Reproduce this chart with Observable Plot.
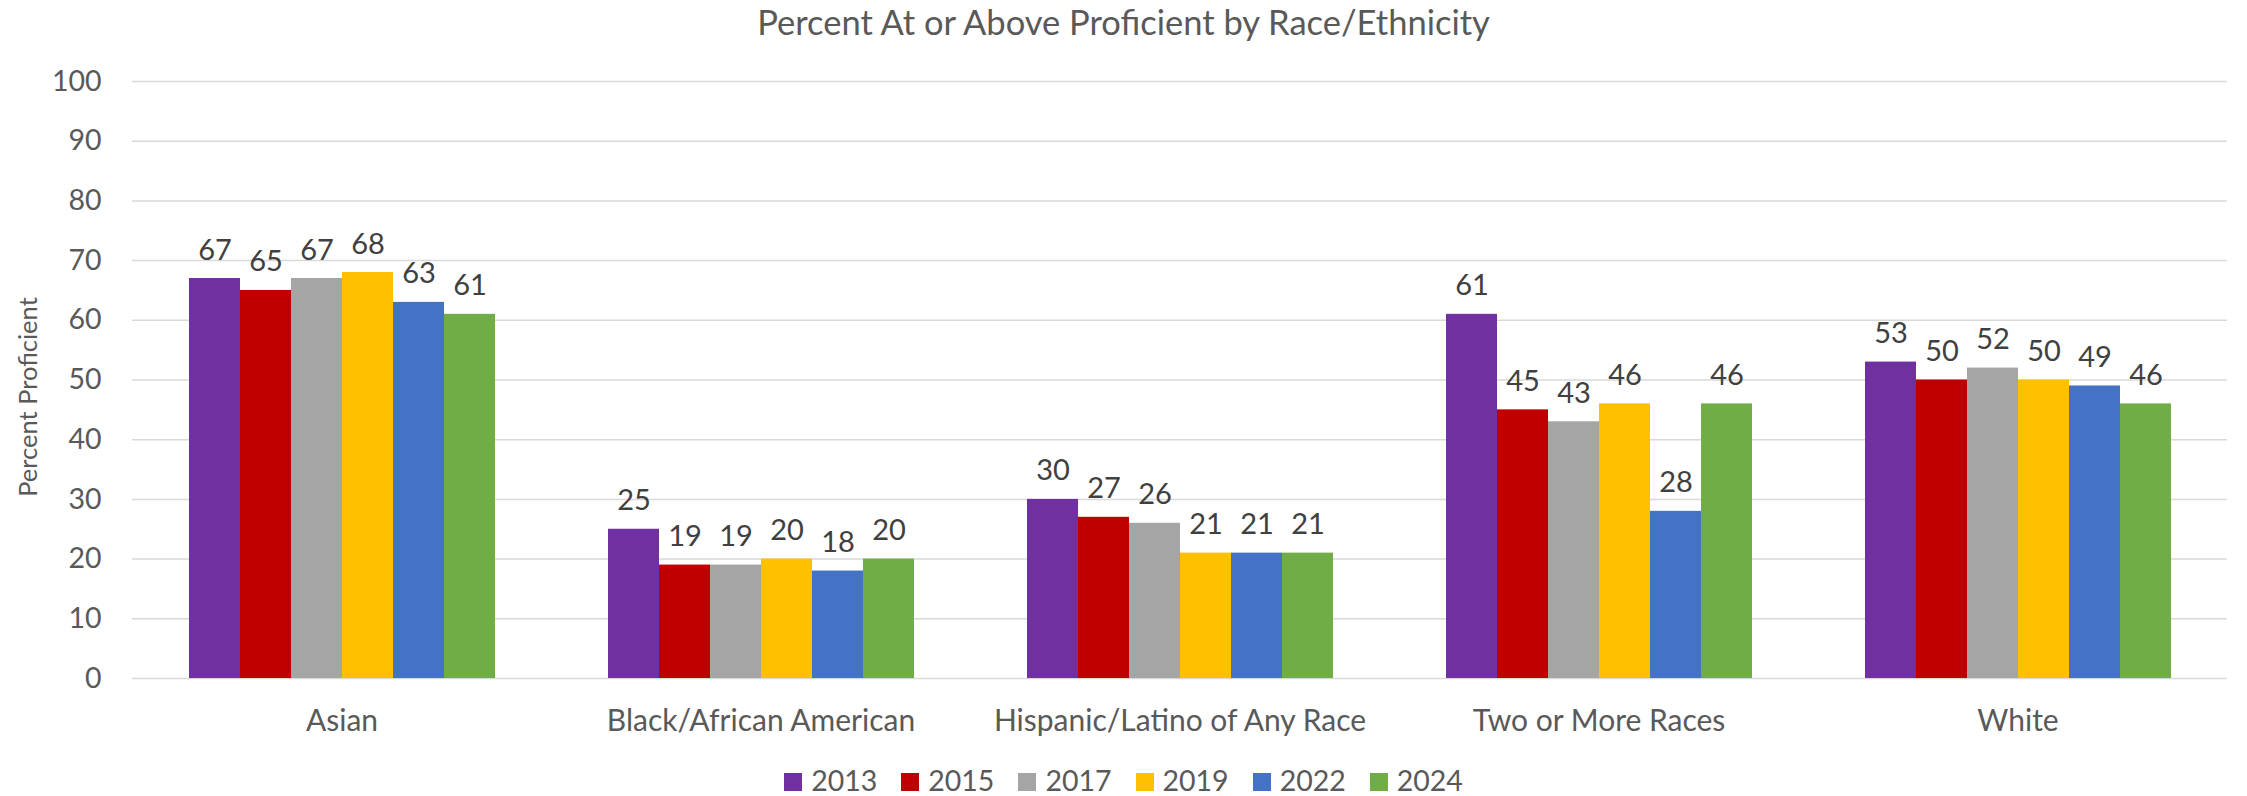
<!DOCTYPE html>
<html>
<head>
<meta charset="utf-8">
<script src="https://cdn.jsdelivr.net/npm/d3@7"></script>
<script src="https://cdn.jsdelivr.net/npm/@observablehq/plot@0.6"></script>
<style>
  html, body { margin: 0; padding: 0; background: #fff; }
  body { width: 2247px; height: 796px; overflow: hidden; font-family: Lato, "Open Sans", sans-serif; color: #595959; }
  #title { height: 44px; line-height: 44px; font-size: 34.5px; text-align: center; }
  #legend { height: 32px; line-height: 32px; font-size: 28.5px; display: flex; justify-content: center; }
  .item { display: inline-flex; align-items: baseline; margin: 0 12px; }
  .sw { display: inline-block; width: 18px; height: 18px; margin-right: 9px; }
  svg { display: block; }
</style>
</head>
<body>
<div id="title">Percent At or Above Proficient by Race/Ethnicity</div>
<div id="chart"></div>
<div id="legend"></div>
<script>
const categories = ["Asian", "Black/African American", "Hispanic/Latino of Any Race", "Two or More Races", "White"];
const years = ["2013", "2015", "2017", "2019", "2022", "2024"];
const colors = ["#7030A0", "#C00000", "#A5A5A5", "#FFC000", "#4472C4", "#70AD47"];
const v2013 = [67, 25, 30, 61, 53];
const v2015 = [65, 19, 27, 45, 50];
const v2017 = [67, 19, 26, 43, 52];
const v2019 = [68, 20, 21, 46, 50];
const v2022 = [63, 18, 21, 28, 49];
const v2024 = [61, 20, 21, 46, 46];
const yTicks = [0, 10, 20, 30, 40, 50, 60, 70, 80, 90, 100];
const yLabel = "Percent Proficient";

const series = [v2013, v2015, v2017, v2019, v2022, v2024];
const rows = [];
years.forEach((yr, i) => categories.forEach((c, j) => rows.push({cat: c, year: yr, v: series[i][j]})));

const chart = Plot.plot({
  width: 2247,
  height: 720,
  marginLeft: 131,
  marginRight: 19,
  marginTop: 37,
  marginBottom: 86,
  style: {fontFamily: "Lato, 'Open Sans', sans-serif", color: "#595959", background: "#fff", overflow: "visible"},
  fx: {domain: categories, padding: 0, label: null},
  x: {domain: years, paddingInner: 0, paddingOuter: 1.1, axis: null},
  y: {domain: [0, 100], label: null},
  color: {domain: years, range: colors},
  marks: [
    Plot.gridY(yTicks, {stroke: "#d9d9d9", strokeOpacity: 1, strokeWidth: 1.5}),
    Plot.axisY(yTicks, {tickSize: 0, tickPadding: 31, fontSize: 28.5, label: null}),
    Plot.axisFx({anchor: "bottom", tickSize: 0, tickPadding: 31, fontSize: 30, label: null}),
    Plot.barY(rows, {fx: "cat", x: "year", y: "v", fill: "year"}),
    Plot.text(rows, {fx: "cat", x: "year", y: "v", text: d => String(d.v), lineAnchor: "bottom", dy: -19, fontSize: 29, fill: "#404040"}),
    Plot.text([yLabel], {fx: () => categories[0], text: d => d, frameAnchor: "left", textAnchor: "middle", rotate: -90, dx: -104, dy: 17, fontSize: 25.5, fill: "#595959"})
  ]
});
document.getElementById("chart").appendChild(chart);

const legend = document.getElementById("legend");
years.forEach((yr, i) => {
  const it = document.createElement("span");
  it.className = "item";
  const sw = document.createElement("span");
  sw.className = "sw";
  sw.style.background = colors[i];
  it.appendChild(sw);
  it.appendChild(document.createTextNode(yr));
  legend.appendChild(it);
});
</script>
</body>
</html>
